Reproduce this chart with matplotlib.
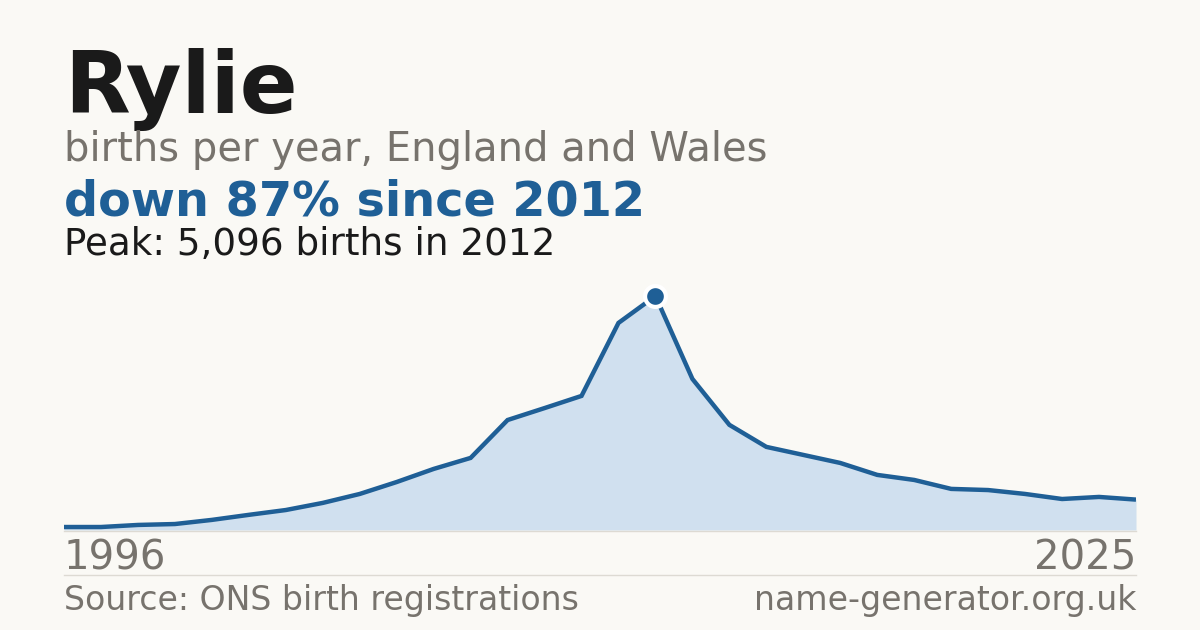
import numpy as np
import matplotlib.pyplot as plt

# Data
years = np.arange(1996, 2026)
births = [65, 65, 110, 130, 220, 330, 435, 590, 785, 1045,
          1330, 1570, 2395, 2655, 2920, 4510, 5096, 3290, 2290, 1810,
          1635, 1460, 1200, 1090, 895, 870, 785, 675, 720, 662]
peak_year = 2012
peak_value = 5096

BG = "#faf9f5"
DARK = "#1a1a1a"
GREY = "#77736d"
BLUE = "#1f5f96"
FILL = "#d0e0ef"
RULE = "#dddad3"

W, H = 1200, 630
fig = plt.figure(figsize=(12, 6.3), dpi=100, facecolor=BG)

# Plot area in pixel coordinates
x0, x1 = 64, 1136
y_bottom, y_top = 530, 280
ax = fig.add_axes([x0 / W, 1 - y_bottom / H, (x1 - x0) / W, (y_bottom - y_top) / H])
ax.set_facecolor("none")
ax.fill_between(years, births, 0, color=FILL, lw=0)
ax.plot(years, births, color=BLUE, lw=3.2, solid_joinstyle="miter",
        solid_capstyle="butt")
ax.plot([peak_year], [peak_value], "o", ms=15, mfc=BLUE, mec="white",
        mew=3, clip_on=False, zorder=5)
ax.set_xlim(years[0], years[-1])
ax.set_ylim(0, peak_value * (y_bottom - y_top) / (y_bottom - 296))
ax.axis("off")

# Thin baseline and separator rule
fig.add_artist(plt.Line2D([x0 / W, x1 / W], [1 - 530.5 / H] * 2, color=RULE, lw=1))
fig.add_artist(plt.Line2D([x0 / W, x1 / W], [1 - 574.5 / H] * 2, color=RULE, lw=1))

def txt(x, y, s, **kw):
    fig.text(x / W, 1 - y / H, s, **kw)

txt(64, 113, "Rylie", fontsize=61.5, fontweight="bold", color=DARK, va="baseline")
txt(64, 161, "births per year, England and Wales", fontsize=28.8, color=GREY,
    va="baseline")
txt(64, 215, "down 87% since 2012", fontsize=34.4, fontweight="bold", color=BLUE,
    va="baseline")
txt(64, 255, "Peak: 5,096 births in 2012", fontsize=26.8, color=DARK, va="baseline")

txt(64, 570, str(years[0]), fontsize=28.9, color=GREY, va="baseline")
txt(1136, 570, str(years[-1]), fontsize=28.9, color=GREY, va="baseline", ha="right")

txt(64, 610, "Source: ONS birth registrations", fontsize=23.9, color=GREY,
    va="baseline")
txt(1136, 610, "name-generator.org.uk", fontsize=23.9, color=GREY, va="baseline",
    ha="right")

fig.savefig("out.png", dpi=100, facecolor=BG)
